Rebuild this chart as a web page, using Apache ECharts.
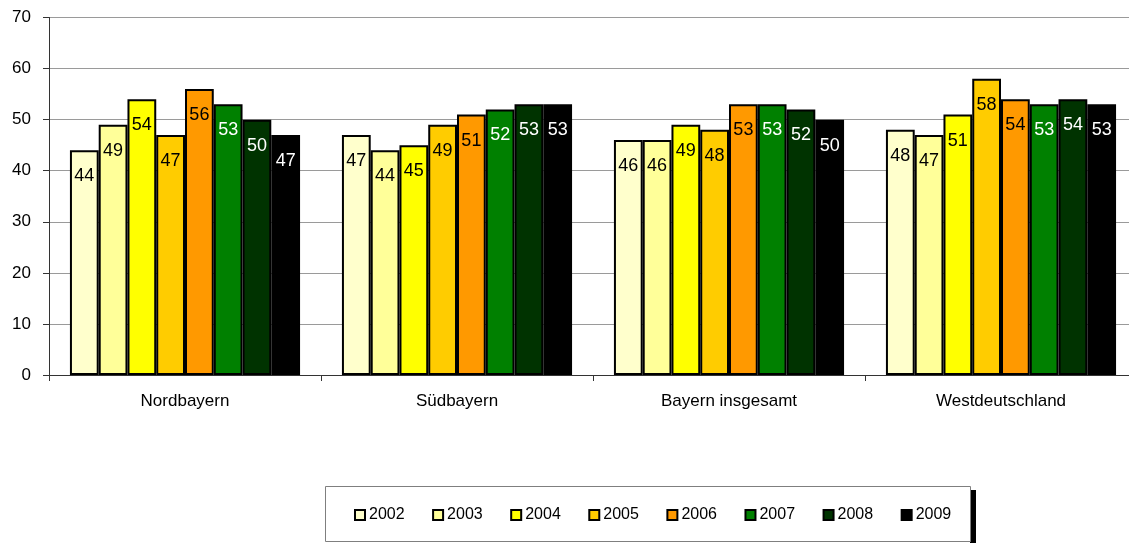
<!DOCTYPE html>
<html>
<head>
<meta charset="utf-8">
<script src="https://cdn.jsdelivr.net/npm/echarts@6/dist/echarts.min.js"></script>
<style>
html,body{margin:0;padding:0;background:#fff;overflow:hidden;}
#c{width:1137px;height:543px;}
</style>
</head>
<body>
<div id="c"></div>
<script>
const categories = ['Nordbayern', 'Südbayern', 'Bayern insgesamt', 'Westdeutschland'];
const years = ['2002', '2003', '2004', '2005', '2006', '2007', '2008', '2009'];
const v2002 = [44, 47, 46, 48];
const v2003 = [49, 44, 46, 47];
const v2004 = [54, 45, 49, 51];
const v2005 = [47, 49, 48, 58];
const v2006 = [56, 51, 53, 54];
const v2007 = [53, 52, 53, 53];
const v2008 = [50, 53, 52, 54];
const v2009 = [47, 53, 50, 53];
const yTicks = [0, 10, 20, 30, 40, 50, 60, 70];

const values = [v2002, v2003, v2004, v2005, v2006, v2007, v2008, v2009];
const colors = ['#FFFFCC', '#FFFF99', '#FFFF00', '#FFCC00', '#FF9900', '#008000', '#003300', '#000000'];
const labelColors = ['#000', '#000', '#000', '#000', '#000', '#fff', '#fff', '#fff'];
const FONT = '"Liberation Sans", Arial, sans-serif';

const chart = echarts.init(document.getElementById('c'), null, {renderer: 'canvas'});
chart.setOption({
  animation: false,
  textStyle: {fontFamily: FONT},
  grid: {left: 49, top: 17.5, right: 0, height: 357.5, containLabel: false},
  graphic: [{
    type: 'rect',
    left: 970, top: 490,
    z: 0,
    shape: {width: 6, height: 60},
    style: {fill: '#000'}
  }, {
    type: 'rect',
    left: 325, top: 486,
    z: 1,
    shape: {width: 645, height: 55},
    style: {fill: '#fff', stroke: '#7f7f7f', lineWidth: 1}
  }],
  legend: {
    left: 325, top: 486,
    z: 10,
    orient: 'horizontal',
    data: years,
    icon: 'rect',
    itemWidth: 10, itemHeight: 10,
    itemGap: 27.5,
    padding: [21, 26, 20, 29],
    textStyle: {fontSize: 16, color: '#000', fontFamily: FONT, padding: [0, 0, 0, -1]},
    itemStyle: {borderColor: '#000', borderWidth: 2}
  },
  xAxis: {
    type: 'category',
    data: categories,
    axisLine: {lineStyle: {color: '#333', width: 1}},
    axisTick: {show: true, alignWithLabel: false, interval: 0, length: 6, lineStyle: {color: '#333'}},
    axisLabel: {fontSize: 17, color: '#000', margin: 18, fontFamily: FONT, interval: 0}
  },
  yAxis: {
    type: 'value',
    min: yTicks[0], max: yTicks[yTicks.length - 1], interval: 10,
    axisLine: {show: true, lineStyle: {color: '#333', width: 1}},
    axisTick: {show: true, length: 6, lineStyle: {color: '#333'}},
    axisLabel: {fontSize: 17, color: '#000', margin: 18, fontFamily: FONT},
    splitLine: {lineStyle: {color: '#9a9a9a', width: 1}}
  },
  series: years.map((y, i) => ({
    name: y,
    type: 'bar',
    data: values[i],
    barGap: '0%',
    barCategoryGap: '15.4%',
    itemStyle: {color: colors[i], borderColor: '#000', borderWidth: 2},
    label: {
      show: true,
      position: 'insideTop',
      distance: 17,
      fontSize: 18,
      color: labelColors[i],
      fontFamily: FONT
    }
  }))
});
</script>
</body>
</html>
